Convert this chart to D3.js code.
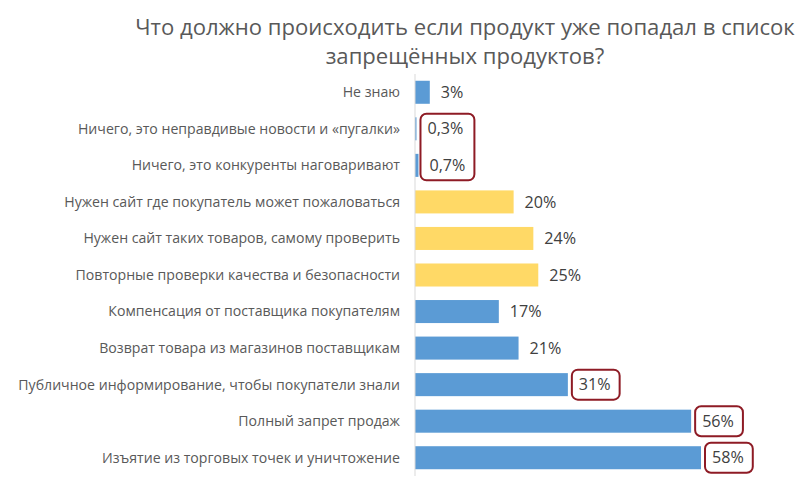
<!DOCTYPE html>
<html><head><meta charset="utf-8">
<script src="https://cdn.jsdelivr.net/npm/d3@7"></script>
<style>body{margin:0;background:#fff}svg{display:block}</style>
</head><body>
<svg id="c" width="800" height="486"></svg>
<script>
const titleLines = ["Что должно происходить если продукт уже попадал в список", "запрещённых продуктов?"];
const categories = [
  "Не знаю",
  "Ничего, это неправдивые новости и «пугалки»",
  "Ничего, это конкуренты наговаривают",
  "Нужен сайт где покупатель может пожаловаться",
  "Нужен сайт таких товаров, самому проверить",
  "Повторные проверки качества и безопасности",
  "Компенсация от поставщика покупателям",
  "Возврат товара из магазинов поставщикам",
  "Публичное информирование, чтобы покупатели знали",
  "Полный запрет продаж ",
  "Изъятие из торговых точек и уничтожение"
];
const values = [3, 0.3, 0.7, 20, 24, 25, 17, 21, 31, 56, 58];
const valueLabels = ["3%", "0,3%", "0,7%", "20%", "24%", "25%", "17%", "21%", "31%", "56%", "58%"];
const groups = ["b", "b", "b", "y", "y", "y", "b", "b", "b", "b", "b"];
const highlightGroups = [[1, 2], [8], [9], [10]];

const colors = {b: "#5B9BD5", y: "#FFD966"};
const svg = d3.select("#c");
const font = "'Open Sans', sans-serif";

function fit(sel, target) {
  const w = d3.max(sel.nodes(), n => n.getComputedTextLength());
  const fs = +sel.attr("font-size");
  sel.attr("font-size", fs * target / w);
}

const x = d3.scaleLinear().domain([0, 58]).range([415, 701]);
const y = d3.scaleBand().domain(d3.range(categories.length)).range([74, 476]).paddingInner(0.37).paddingOuter(0.185);

// title
const tt = svg.append("g").selectAll("text").data(titleLines).join("text")
  .attr("x", 465).attr("y", (d, i) => 35 + i * 29)
  .attr("text-anchor", "middle")
  .attr("font-family", font).attr("font-size", 20).attr("fill", "#595959")
  .text(d => d);
fit(tt, 660);

// bars
svg.append("g").selectAll("rect").data(values).join("rect")
  .attr("x", x(0)).attr("y", (d, i) => y(i))
  .attr("width", d => Math.max(0, x(d) - x(0))).attr("height", y.bandwidth())
  .attr("fill", (d, i) => colors[groups[i]]);

// axis line
svg.append("line").attr("x1", x(0)).attr("x2", x(0)).attr("y1", 74).attr("y2", 476)
  .attr("stroke", "#D9D9D9").attr("stroke-width", 1);

// category labels
const cl = svg.append("g").selectAll("text").data(categories).join("text")
  .attr("x", 400).attr("y", (d, i) => y(i) + y.bandwidth() / 2)
  .attr("dy", "0.35em").attr("text-anchor", "end")
  .attr("font-family", font).attr("font-size", 14).attr("fill", "#595959")
  .text(d => d);
fit(cl, 382);

// value labels
const vl = svg.append("g").selectAll("text").data(values).join("text")
  .attr("x", d => x(d) + 11).attr("y", (d, i) => y(i) + y.bandwidth() / 2)
  .attr("dy", "0.35em")
  .attr("font-family", font).attr("font-size", 14).attr("fill", "#404040")
  .text((d, i) => valueLabels[i]);
fit(vl, 36);
const nodes = vl.nodes();

// highlight boxes
highlightGroups.forEach(g => {
  const bbs = g.map(i => nodes[i].getBBox());
  const x0 = d3.min(bbs, b => b.x) - 7;
  const x1 = d3.max(bbs, b => b.x + b.width) + 9;
  const y0 = y(g[0]) + y.bandwidth() / 2 - 15;
  const y1 = y(g[g.length - 1]) + y.bandwidth() / 2 + 15;
  svg.append("rect").attr("x", x0).attr("y", y0).attr("width", x1 - x0).attr("height", y1 - y0)
    .attr("rx", 6).attr("fill", "none").attr("stroke", "#8E1B25").attr("stroke-width", 2);
});
</script>
</body></html>
